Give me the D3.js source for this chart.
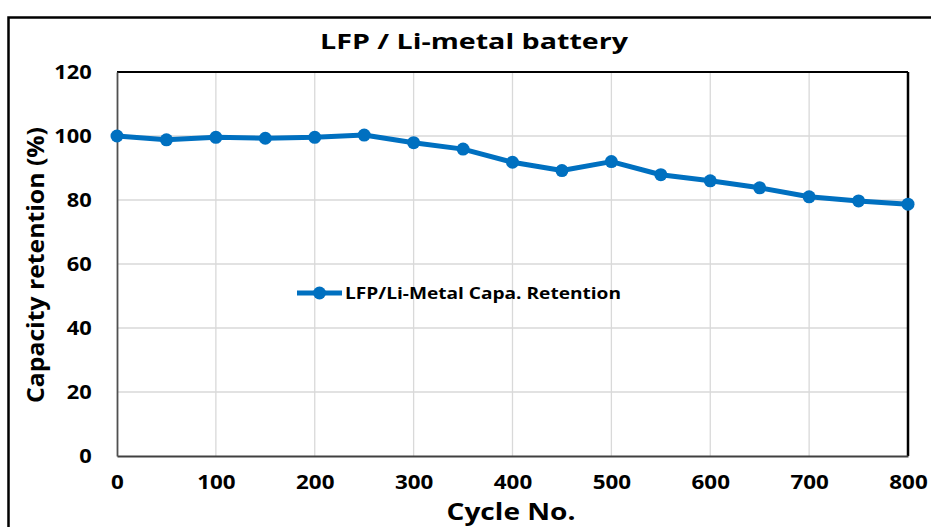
<!DOCTYPE html>
<html><head><meta charset="utf-8">
<script src="https://cdn.jsdelivr.net/npm/d3@7"></script>
<style>html,body{margin:0;padding:0;background:#fff;}svg{display:block;}</style>
</head><body>
<script>
const cycles = [0,50,100,150,200,250,300,350,400,450,500,550,600,650,700,750,800];
const retention = [100,98.8,99.6,99.3,99.6,100.3,97.9,95.9,91.8,89.2,92.0,87.9,86.0,83.8,81.0,79.7,78.7];
const xTicks = [0,100,200,300,400,500,600,700,800];
const yTicks = [0,20,40,60,80,100,120];
const seriesName = "LFP/Li-Metal Capa. Retention";
const title = "LFP / Li-metal battery";
const xTitle = "Cycle No.";
const yTitle = "Capacity retention (%)";

const W = 931, H = 527;
const m = {left:117, right:931-908, top:72, bottom:527-456};
const FONT = "'Open Sans', sans-serif";
const blue = "#0070C0";

const svg = d3.select("body").append("svg").attr("width",W).attr("height",H);
svg.append("rect").attr("width",W).attr("height",H).attr("fill","#fff");
// outer frame
svg.append("rect").attr("x",8.5).attr("y",17.5).attr("width",W).attr("height",H)
  .attr("fill","none").attr("stroke","#000").attr("stroke-width",2.5);

const x = d3.scaleLinear().domain([0,800]).range([m.left, W-m.right]);
const y = d3.scaleLinear().domain([0,120]).range([H-m.bottom, m.top]);

// gridlines
svg.append("g").selectAll("line.h").data(yTicks.filter(d=>d>0&&d<120)).join("line")
  .attr("x1",x(0)).attr("x2",x(800)).attr("y1",d=>y(d)).attr("y2",d=>y(d))
  .attr("stroke","#d9d9d9").attr("stroke-width",1.3);
svg.append("g").selectAll("line.v").data(xTicks.filter(d=>d>0&&d<800)).join("line")
  .attr("y1",y(0)).attr("y2",y(120)).attr("x1",d=>x(d)).attr("x2",d=>x(d))
  .attr("stroke","#d9d9d9").attr("stroke-width",1.3);

// plot frame
svg.append("line").attr("x1",x(0)).attr("x2",x(800)).attr("y1",y(120)).attr("y2",y(120)).attr("stroke","#000").attr("stroke-width",2);
svg.append("line").attr("x1",x(800)).attr("x2",x(800)).attr("y1",y(120)).attr("y2",y(0)).attr("stroke","#000").attr("stroke-width",2.5);

// axes
const xAxis = svg.append("g").attr("transform",`translate(0,${y(0)})`)
  .call(d3.axisBottom(x).tickValues(xTicks).tickSize(0).tickPadding(19).tickFormat(d3.format("d")));
xAxis.select(".domain").attr("stroke","#404040").attr("stroke-width",1.8);
xAxis.selectAll("text").attr("font-family",FONT).attr("font-weight","bold").attr("font-size",20)
  .attr("fill","#000").attr("transform","scale(1.12,1)");

const yAxis = svg.append("g").attr("transform",`translate(${x(0)},0)`)
  .call(d3.axisLeft(y).tickValues(yTicks).tickSize(0).tickPadding(22).tickFormat(d3.format("d")));
yAxis.select(".domain").attr("stroke","#505050").attr("stroke-width",1.8);
yAxis.selectAll("text").attr("font-family",FONT).attr("font-weight","bold").attr("font-size",19)
  .attr("fill","#000").attr("transform","scale(1.15,1)").attr("dy","0.36em");

// series
const pts = cycles.map((c,i)=>[c,retention[i]]);
svg.append("path").datum(pts)
  .attr("fill","none").attr("stroke",blue).attr("stroke-width",5).attr("stroke-linejoin","round")
  .attr("d", d3.line().x(d=>x(d[0])).y(d=>y(d[1])));
svg.append("g").selectAll("circle").data(pts).join("circle")
  .attr("cx",d=>x(d[0])).attr("cy",d=>y(d[1])).attr("r",6.5).attr("fill",blue);

// legend
const lg = svg.append("g");
lg.append("line").attr("x1",297).attr("x2",342).attr("y1",293).attr("y2",293).attr("stroke",blue).attr("stroke-width",5);
lg.append("circle").attr("cx",319.5).attr("cy",293).attr("r",6.5).attr("fill",blue);
lg.append("text").attr("x",345).attr("y",299).text(seriesName)
  .attr("font-family",FONT).attr("font-weight","bold").attr("font-size",16.5).attr("fill","#000")
  .attr("textLength",276).attr("lengthAdjust","spacingAndGlyphs");

// titles
svg.append("text").attr("x",474).attr("y",49).attr("text-anchor","middle").text(title)
  .attr("font-family",FONT).attr("font-weight","bold").attr("font-size",21.5).attr("fill","#000")
  .attr("textLength",308).attr("lengthAdjust","spacingAndGlyphs");
svg.append("text").attr("x",511).attr("y",520).attr("text-anchor","middle").text(xTitle)
  .attr("font-family",FONT).attr("font-weight","bold").attr("font-size",23).attr("fill","#000")
  .attr("textLength",129).attr("lengthAdjust","spacingAndGlyphs");
svg.append("text").attr("transform","translate(44,265) rotate(-90)").attr("text-anchor","middle").text(yTitle)
  .attr("font-family",FONT).attr("font-weight","bold").attr("font-size",24).attr("fill","#000")
  .attr("textLength",276).attr("lengthAdjust","spacingAndGlyphs");
</script>
</body></html>
